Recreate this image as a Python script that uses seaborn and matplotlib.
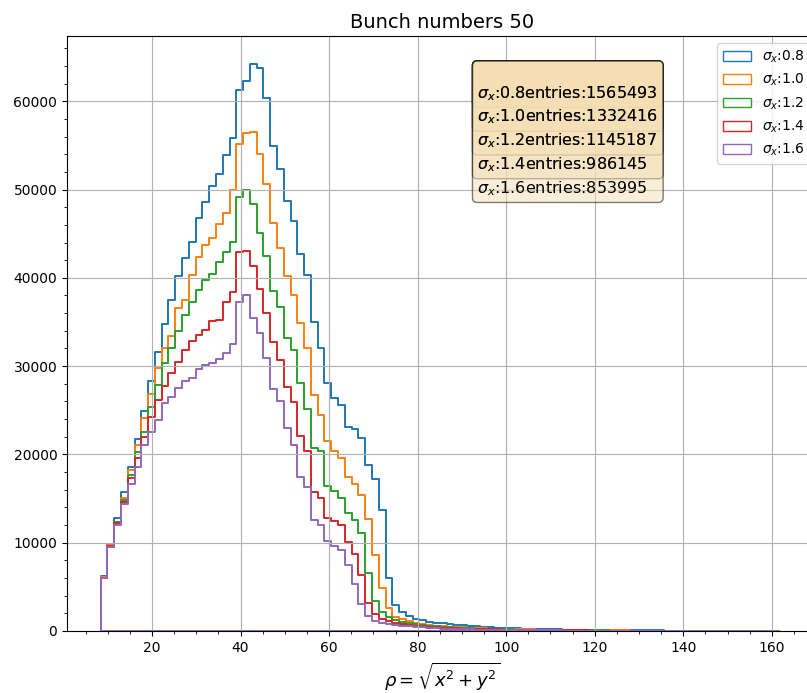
import numpy as np
import matplotlib
matplotlib.use("Agg")
import matplotlib.pyplot as plt
from matplotlib.patches import Patch
import seaborn as sns

# ---------------- data ----------------
sigmas = ["0.8", "1.0", "1.2", "1.4", "1.6"]
entries = [1565493, 1332416, 1145187, 986145, 853995]
rho_min, rho_max, n_bins = 8.4, 161.6, 100

counts_08 = [
    6200, 9800, 12760, 15700, 18610, 21700, 24900, 28300, 31630, 34800,
    37450, 40240, 42250, 44020, 46730, 48580, 50420, 51720, 53940, 55870,
    61270, 62350, 64180, 63820, 60400, 54900, 52340, 48750, 46400, 42680,
    40350, 35030, 32050, 28050, 26350, 25550, 23050, 22850, 21850, 18800,
    17250, 13700, 5950, 2940, 2200, 1750, 1400, 1250, 1060, 940,
    870, 755, 680, 640, 570, 520, 470, 420, 380, 340,
    310, 285, 260, 240, 220, 200, 185, 170, 155, 145,
    135, 125, 115, 105, 100, 95, 90, 85, 80, 72,
    65, 60, 55, 50, 45, 42, 38, 35, 32, 30,
    27, 25, 22, 20, 18, 16, 14, 12, 10, 8,
]
counts_10 = [
    6100, 9740, 12340, 15020, 18230, 21060, 24080, 26840, 29750, 32010,
    33400, 36600, 37490, 40320, 42390, 43710, 44540, 46090, 47300, 49940,
    55110, 56360, 56550, 53980, 50580, 46240, 43410, 40240, 38050, 34920,
    32050, 26700, 24460, 21500, 20400, 19550, 17480, 16610, 15420, 12650,
    8620, 4830, 2570, 1620, 1360, 1130, 940, 790, 700, 620,
    560, 500, 450, 410, 370, 335, 305, 280, 255, 235,
    215, 200, 185, 170, 158, 146, 135, 125, 116, 108,
    100, 92, 85, 78, 72, 66, 60, 55, 50, 46,
    42, 38, 34, 30, 27, 24, 21, 18, 16, 14,
    13, 12, 11, 10, 9, 8, 8, 7, 6, 5,
]
counts_12 = [
    6000, 9550, 12340, 14840, 17700, 20310, 22570, 25400, 27860, 30310,
    32010, 34000, 35800, 37300, 38600, 39700, 40400, 41800, 42900, 44100,
    49190, 49940, 48360, 45080, 42510, 38500, 36700, 33200, 31820, 28120,
    25100, 20690, 20420, 16420, 15850, 15020, 13400, 12570, 11060, 6610,
    3440, 2190, 1550, 1250, 1060, 900, 780, 680, 600, 530,
    470, 420, 380, 340, 305, 275, 250, 228, 208, 190,
    174, 160, 147, 135, 124, 114, 105, 97, 90, 83,
    77, 71, 65, 60, 55, 50, 46, 42, 38, 35,
    32, 29, 26, 23, 21, 19, 17, 15, 13, 11,
    10, 9, 9, 8, 7, 6, 6, 5, 4, 4,
]
counts_14 = [
    6050, 9590, 12210, 14600, 17290, 19550, 22010, 24270, 26160, 27750,
    29180, 30430, 31820, 32840, 33520, 34090, 35110, 35220, 37300, 38350,
    42880, 43070, 41370, 38690, 35970, 32690, 30700, 27670, 25900, 22080,
    20420, 15780, 15020, 12760, 12500, 12000, 10120, 8720, 6340, 3130,
    1930, 1400, 1130, 950, 820, 710, 620, 545, 480, 425,
    380, 340, 305, 275, 248, 225, 205, 187, 170, 156,
    143, 131, 120, 110, 101, 93, 86, 79, 73, 67,
    62, 57, 52, 48, 44, 40, 37, 34, 31, 28,
    26, 24, 22, 20, 18, 16, 14, 12, 11, 10,
    9, 8, 8, 7, 6, 6, 5, 4, 4, 3,
]
counts_16 = [
    5950, 9470, 12000, 14380, 16650, 18610, 21060, 22570, 23900, 25780,
    26540, 27480, 28290, 28690, 29670, 30120, 30310, 30800, 31450, 32470,
    37220, 38050, 35410, 33710, 30900, 27370, 26090, 22950, 21060, 17480,
    16350, 12570, 12000, 10230, 9630, 9170, 7470, 5320, 3060, 1650,
    1150, 950, 800, 680, 590, 515, 450, 395, 350, 310,
    275, 245, 220, 198, 178, 160, 145, 132, 120, 110,
    100, 92, 85, 78, 72, 66, 61, 56, 52, 48,
    44, 41, 38, 35, 32, 30, 28, 26, 24, 22,
    20, 18, 17, 16, 15, 14, 13, 12, 11, 10,
    9, 8, 8, 7, 6, 6, 5, 4, 4, 3,
]
all_counts = [counts_08, counts_10, counts_12, counts_14, counts_16]

# ---------------- plot ----------------
colors = ["#1f77b4", "#ff7f0e", "#2ca02c", "#d62728", "#9467bd"]
edges = np.linspace(rho_min, rho_max, n_bins + 1)
centers = 0.5 * (edges[:-1] + edges[1:])

fig = plt.figure(figsize=(8.07, 6.93), dpi=100)
ax = fig.add_axes([0.0830, 0.0895, 0.9294, 0.8585])

for counts, col in zip(all_counts, colors):
    sns.histplot(x=centers, weights=counts, bins=n_bins,
                 binrange=(rho_min, rho_max), element="step",
                 fill=True, facecolor="none", edgecolor=col, color=col,
                 linewidth=1.4, ax=ax)

ax.set_xlim(0.8, 170.2)
ax.set_ylim(0, max(max(c) for c in all_counts) * 1.05)
ax.minorticks_on()
ax.grid(True, which="major")
ax.set_ylabel("")
ax.set_xlabel(r"$\rho=\sqrt{x^2+y^2}$", fontsize=13)
ax.set_title("Bunch numbers 50", fontsize=14)

handles = [Patch(facecolor="none", edgecolor=c, label=rf"$\sigma_x$:{s}")
           for c, s in zip(colors, sigmas)]
ax.legend(handles=handles, loc="upper right")

props = dict(boxstyle="round", facecolor="wheat", alpha=0.5)
textstr = ""
for s, n in zip(sigmas, entries):
    textstr += "\n" + rf"$\sigma_x$:{s}entries:{n}"
    ax.text(0.547, 0.953, textstr, transform=ax.transAxes, fontsize=11.5,
            linespacing=1.36, verticalalignment="top", bbox=props)

fig.savefig("out.png", dpi=100)
